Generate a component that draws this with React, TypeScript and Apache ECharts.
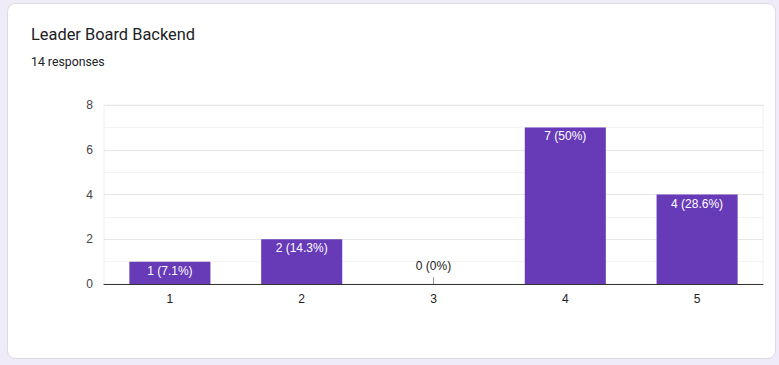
import React, { useEffect, useRef } from "react";
import * as echarts from "echarts";

const categories = ["1", "2", "3", "4", "5"];
const counts = [1, 2, 0, 7, 4];
const percents = ["7.1%", "14.3%", "0%", "50%", "28.6%"];
const yTicks = [0, 2, 4, 6, 8];

export default function App() {
  const ref = useRef<HTMLDivElement>(null);
  useEffect(() => {
    document.body.style.margin = "0";
    const chart = echarts.init(ref.current!, undefined, { renderer: "svg" });
    const font = "Roboto, Arial, sans-serif";
    const axFont = "'Liberation Sans', Arial, sans-serif";
    chart.setOption({
      animation: false,
      backgroundColor: "#f0ebf8",
      textStyle: { fontFamily: font },
      graphic: [
        {
          type: "rect",
          z: -10,
          shape: { x: 7.5, y: 3.5, width: 768, height: 355, r: 8 },
          style: { fill: "#ffffff", stroke: "#dadce0", lineWidth: 1 },
        },
      ],
      title: [
        {
          text: "Leader Board Backend",
          left: 31,
          top: 26,
          padding: 0,
          textStyle: { fontSize: 16.4, fontWeight: "normal", color: "#202124", fontFamily: font },
        },
        {
          text: "14 responses",
          left: 31,
          top: 56,
          padding: 0,
          textStyle: { fontSize: 12.3, fontWeight: "normal", color: "#202124", fontFamily: font },
        },
      ],
      grid: {
        left: 104,
        top: 105,
        right: 16,
        bottom: 81,
        show: true,
        borderColor: "#eeeeee",
        borderWidth: 1,
      },
      xAxis: {
        type: "category",
        data: categories,
        axisLine: { lineStyle: { color: "#333333", width: 1 } },
        axisTick: { show: false },
        axisLabel: { color: "#222222", fontSize: 12, margin: 9, fontFamily: axFont },
      },
      yAxis: {
        type: "value",
        min: yTicks[0],
        max: yTicks[yTicks.length - 1],
        interval: 2,
        axisLine: { show: false },
        axisTick: { show: false },
        axisLabel: { color: "#444444", fontSize: 12, margin: 11, fontFamily: axFont },
        splitLine: { lineStyle: { color: "#e6e6e6" } },
        minorTick: { show: false, splitNumber: 2 },
        minorSplitLine: { show: true, lineStyle: { color: "#f3f3f3" } },
      },
      series: [
        {
          type: "bar",
          data: counts,
          barWidth: "61.5%",
          itemStyle: { color: "#673ab7" },
          label: {
            show: true,
            position: "insideTop",
            distance: 3,
            fontSize: 12,
            fontFamily: axFont,
            color: "#ffffff",
            formatter: (p: any) => (p.value === 0 ? "" : `${p.value} (${percents[p.dataIndex]})`),
          },
        },
        {
          type: "custom",
          data: counts.map((v, i) => [i, v]),
          renderItem: (params: any, api: any) => {
            const v = api.value(1);
            if (v !== 0) return null;
            const base = api.coord([api.value(0), 0]);
            return {
              type: "group",
              children: [
                {
                  type: "line",
                  shape: { x1: base[0], y1: base[1] - 7, x2: base[0], y2: base[1] },
                  style: { stroke: "#999999", lineWidth: 1 },
                },
                {
                  type: "text",
                  style: {
                    x: base[0],
                    y: base[1] - 18,
                    text: `${v} (${percents[params.dataIndex]})`,
                    fill: "#222222",
                    fontSize: 12,
                    fontFamily: axFont,
                    align: "center",
                    verticalAlign: "middle",
                  },
                },
              ],
            };
          },
        },
      ],
    });
    return () => chart.dispose();
  }, []);
  return <div ref={ref} style={{ position: "fixed", left: 0, top: 0, width: 779, height: 365 }} />;
}
